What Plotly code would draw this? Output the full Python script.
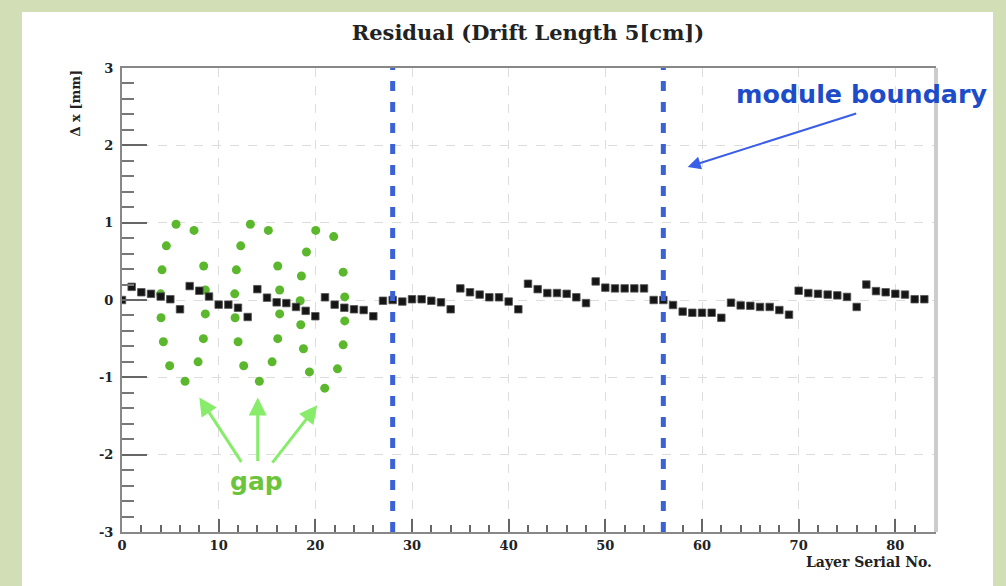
import plotly.graph_objects as go

# ---- data ----
layers = list(range(0, 84))
residual = [
    0.00, 0.17, 0.10, 0.08, 0.045, 0.01, -0.12,
    0.18, 0.12, 0.045, -0.06, -0.06, -0.10, -0.22,
    0.14, 0.03, -0.03, -0.04, -0.09, -0.14, -0.21,
    0.035, -0.06, -0.10, -0.12, -0.13, -0.21, -0.01,
    0.00, -0.02, 0.01, 0.01, -0.01, -0.03, -0.12,
    0.15, 0.10, 0.07, 0.035, 0.035, -0.02, -0.12,
    0.21, 0.14, 0.09, 0.09, 0.08, 0.035, -0.04,
    0.24, 0.16, 0.15, 0.15, 0.15, 0.15, 0.00,
    0.00, -0.065, -0.15, -0.165, -0.165, -0.165, -0.23,
    -0.035, -0.07, -0.075, -0.09, -0.09, -0.13, -0.19,
    0.12, 0.09, 0.08, 0.07, 0.06, 0.04, -0.09,
    0.20, 0.115, 0.10, 0.08, 0.07, 0.01, 0.01,
]

gap_x = [
    5.59, 7.45, 4.59, 4.14, 8.45, 4.00, 8.62, 4.04, 8.62, 4.28, 8.42, 4.93, 7.87, 6.52,
    13.28, 15.14, 12.28, 11.83, 16.11, 11.66, 16.31, 11.70, 16.31, 12.01, 16.11, 12.59, 15.53, 14.21,
    20.04, 21.90, 19.08, 18.56, 22.88, 18.43, 23.04, 18.49, 23.04, 18.77, 22.88, 19.39, 22.29, 20.97,
]
gap_y = [
    0.98, 0.90, 0.70, 0.39, 0.44, 0.08, 0.13, -0.23, -0.18, -0.54, -0.50, -0.85, -0.80, -1.05,
    0.98, 0.90, 0.70, 0.39, 0.44, 0.08, 0.13, -0.23, -0.18, -0.54, -0.50, -0.85, -0.80, -1.05,
    0.90, 0.82, 0.62, 0.31, 0.36, -0.01, 0.04, -0.32, -0.27, -0.63, -0.58, -0.93, -0.89, -1.14,
]

module_boundaries = [28, 56]
x_range = [0, 84]
y_range = [-3, 3]
y_tickvals = [-3, -2, -1, 0, 1, 2, 3]
y_ticktext = ["-3", "-2", "-1", "0", "1", "2", "3"]

# ---- figure ----
W, H = 1006, 586
L, R, T, B = 122, 72, 68, 54
pw, ph = W - L - R, H - T - B

def px2paper_x(p):
    return (p - L) / pw

def px2paper_y(p):
    return (H - B - p) / ph

fig = go.Figure()

fig.add_trace(go.Scatter(
    x=gap_x, y=gap_y, mode="markers",
    marker=dict(symbol="circle", size=9, color="#5bb82d"),
    showlegend=False, hoverinfo="skip",
))
fig.add_trace(go.Scatter(
    x=layers, y=residual, mode="markers",
    marker=dict(symbol="square", size=7.5, color="#151515",
                line=dict(width=0.8, color="#555")),
    showlegend=False,
))

shapes = []
# white panel over green background
shapes.append(dict(type="rect", xref="paper", yref="paper",
                   x0=px2paper_x(22), x1=px2paper_x(993),
                   y0=px2paper_y(600), y1=px2paper_y(12),
                   fillcolor="white", line=dict(width=0), layer="below"))
# frame shadow on the right
shapes.append(dict(type="line", xref="paper", yref="paper",
                   x0=px2paper_x(936), x1=px2paper_x(936),
                   y0=0, y1=1, line=dict(color="#cccccc", width=4)))
for xb in module_boundaries:
    shapes.append(dict(type="line", xref="x", yref="y",
                       x0=xb, x1=xb, y0=y_range[0], y1=y_range[1],
                       line=dict(color="#3a62d6", width=5, dash="10px,11px")))

serif = "DejaVu Serif"
sans = "DejaVu Sans"
annotations = [
    dict(text="Δ x [mm]", xref="paper", yref="paper",
         x=px2paper_x(75), y=1.0, xanchor="center", yanchor="top",
         textangle=-90, showarrow=False,
         font=dict(family=serif, size=13, color="#222", weight="bold")),
    dict(text="Layer Serial No.", xref="paper", yref="paper",
         x=1.0, y=px2paper_y(562), xanchor="right", yanchor="middle",
         showarrow=False,
         font=dict(family=serif, size=14, color="#222", weight="bold")),
    dict(text="module boundary", xref="x", yref="y",
         x=76.6, y=2.66, xanchor="center", yanchor="middle", showarrow=False,
         font=dict(family=sans, size=25.4, color="#1d4cc8", weight="bold")),
    dict(text="", xref="x", yref="y", x=58.52, y=1.72,
         ax=170, ay=-54, axref="pixel", ayref="pixel",
         showarrow=True, arrowhead=2, arrowsize=1.3, arrowwidth=2, arrowcolor="#3a5ee8"),
    dict(text="gap", xref="x", yref="y",
         x=13.9, y=-2.35, xanchor="center", yanchor="middle", showarrow=False,
         font=dict(family=sans, size=25, color="#6cc43c", weight="bold")),
    dict(text="", xref="x", yref="y", x=8.0, y=-1.26, ax=43, ay=66,
         showarrow=True, arrowhead=2, arrowsize=1.2, arrowwidth=3, arrowcolor="#86ec6a"),
    dict(text="", xref="x", yref="y", x=14.04, y=-1.26, ax=0, ay=65,
         showarrow=True, arrowhead=2, arrowsize=1.2, arrowwidth=3, arrowcolor="#86ec6a"),
    dict(text="", xref="x", yref="y", x=20.2, y=-1.36, ax=-46, ay=59,
         showarrow=True, arrowhead=2, arrowsize=1.2, arrowwidth=3, arrowcolor="#86ec6a"),
]

tickfont = dict(family=serif, size=13, color="#222", weight="bold")

fig.update_layout(
    width=W, height=H,
    margin=dict(l=L, r=R, t=T, b=B, autoexpand=False),
    paper_bgcolor="#d2dfb6",
    plot_bgcolor="white",
    title=dict(text="Residual (Drift Length 5[cm])", x=px2paper_x(528), xref="paper",
               xanchor="center", y=1 - 33 / H, yanchor="middle",
               font=dict(family=serif, size=21, color="#222", weight="bold")),
    shapes=shapes,
    annotations=annotations,
    xaxis=dict(range=x_range, dtick=10, tick0=0, ticks="inside", ticklen=13,
               tickwidth=1.5, tickcolor="#666",
               showline=True, linecolor="#888", linewidth=2, mirror=True,
               showgrid=True, gridcolor="#dddddd", griddash="dash", gridwidth=1,
               zeroline=False, tickfont=tickfont,
               minor=dict(dtick=2, ticks="inside", ticklen=7, tickcolor="#666",
                          showgrid=False)),
    yaxis=dict(range=y_range, tickvals=y_tickvals, ticktext=y_ticktext,
               ticks="inside", ticklen=25,
               tickwidth=1.5, tickcolor="#666",
               showline=True, linecolor="#888", linewidth=2, mirror=True,
               showgrid=True, gridcolor="#dddddd", griddash="dash", gridwidth=1,
               zeroline=False, tickfont=tickfont, ticklabelstandoff=4,
               minor=dict(dtick=0.2, ticks="inside", ticklen=12, tickcolor="#777",
                          showgrid=False)),
)

fig.write_html("out.html")
